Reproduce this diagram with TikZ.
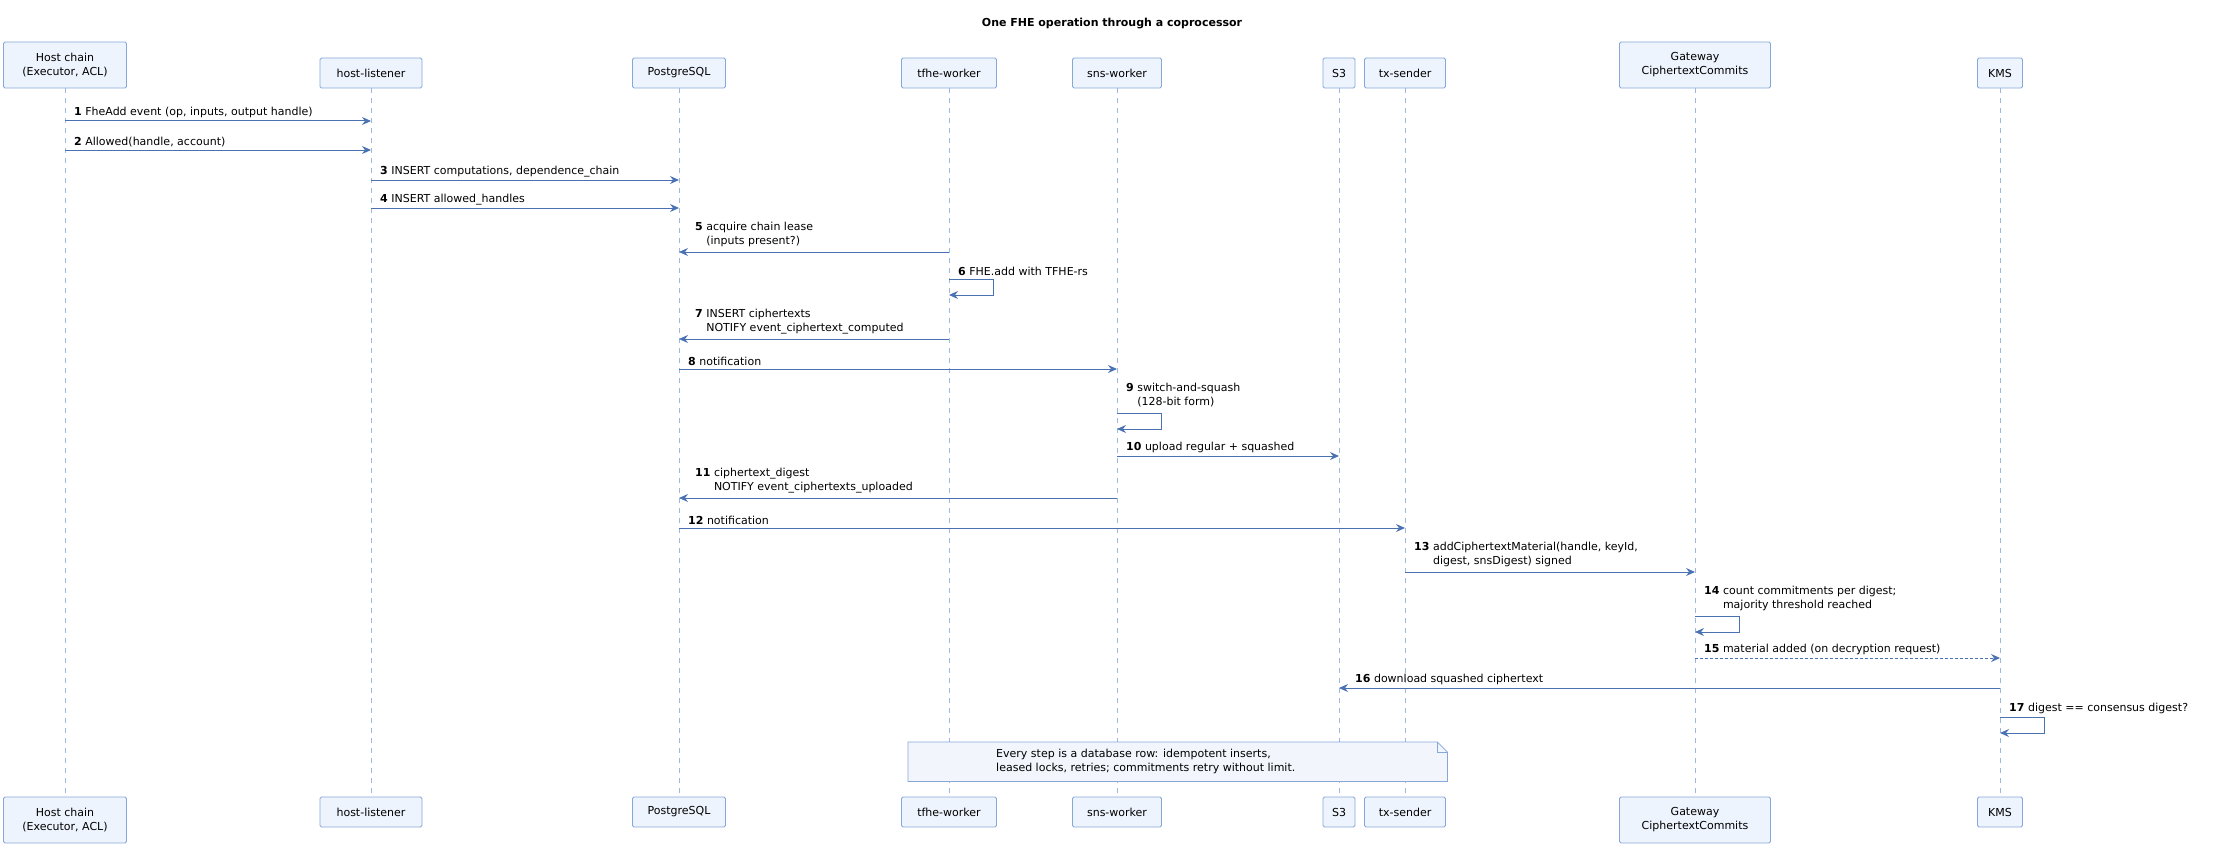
\documentclass[tikz,border=0pt]{standalone}
\usepackage{fontspec}
\setmainfont{DejaVu Sans}
\usetikzlibrary{arrows.meta,calc}
\definecolor{boxfill}{HTML}{EEF4FD}
\definecolor{boxline}{HTML}{86A8D8}
\definecolor{arr}{HTML}{4A72B2}
\definecolor{life}{HTML}{9DB8E0}
\definecolor{notefill}{HTML}{F2F6FC}
\tikzset{x=1pt,y=-1pt,
 part/.style={draw=boxline,fill=boxfill,rounded corners=1.5pt,line width=0.8pt,inner sep=0pt,align=center,font=\fontsize{11}{14}\selectfont},
 msg/.style={draw=arr,line width=1pt,-{Stealth[length=9pt,width=8pt,inset=3pt]}},
 lbl/.style={inner sep=0pt,anchor=south west,align=left,font=\fontsize{11}{14}\selectfont},
 lifeline/.style={draw=life,line width=0.8pt,dash pattern=on 5pt off 5pt}}
\newcommand{\tl}[2]{\begin{tabular}[t]{@{}l@{}}#1\\#2\end{tabular}}
\begin{document}
\begin{tikzpicture}
\useasboundingbox (0,0) rectangle (2223,848);
\node[font=\bfseries\fontsize{11}{14}\selectfont] (title) at (1112,24) {One FHE operation through a coprocessor};
% participants: name, x, left, right
\foreach \n/\x/\w/\t/\two in {A/65/123/{Host chain\\(Executor, ACL)}/1,B/371/102/{host-listener}/0,C/679/93/{PostgreSQL}/0,D/949/95/{tfhe-worker}/0,E/1117/89/{sns-worker}/0,F/1339/32/{S3}/0,G/1405/81/{tx-sender}/0,H/1695/151/{Gateway\\CiphertextCommits}/1,I/2000/45/{KMS}/0}{
 \ifnum\two=1
  \node[part,minimum width=\w pt,minimum height=46pt] (t\n) at (\x,65) {\t};
  \node[part,minimum width=\w pt,minimum height=46pt] (b\n) at (\x,820) {\t};
 \else
  \node[part,minimum width=\w pt,minimum height=30pt] (t\n) at (\x,73) {\t};
  \node[part,minimum width=\w pt,minimum height=30pt] (b\n) at (\x,812) {\t};
 \fi
 \draw[lifeline] (t\n.south) -- (b\n.north);
}
% note
\node[inner sep=0pt,minimum width=539pt,minimum height=39pt,anchor=north west] (note) at (908,742) {};
\draw[draw=boxline,fill=notefill,line width=0.8pt] (note.north west) -- ($(note.north east)+(-10,0)$) -- ($(note.north east)+(0,10)$) -- (note.south east) -- (note.south west) -- cycle;
\draw[draw=boxline,line width=0.8pt] ($(note.north east)+(-10,0)$) |- ($(note.north east)+(0,10)$);
\node[lbl,anchor=west] (notetext) at (996,761) {Every step is a database row: idempotent inserts,\\leased locks, retries; commitments retry without limit.};
% messages right
\draw[msg] (tA |- 0,121) -- (tB |- 0,121);
\node[lbl] (l1) at ($(tA |- 0,118)+(9,0)$) {\textbf{1} FheAdd event (op, inputs, output handle)};
\draw[msg] (tA |- 0,150) -- (tB |- 0,150);
\node[lbl] (l2) at ($(tA |- 0,147)+(9,0)$) {\textbf{2} Allowed(handle, account)};
\draw[msg] (tB |- 0,180) -- (tC |- 0,180);
\node[lbl] (l3) at ($(tB |- 0,177)+(9,0)$) {\textbf{3} INSERT computations, dependence\_chain};
\draw[msg] (tB |- 0,208) -- (tC |- 0,208);
\node[lbl] (l4) at ($(tB |- 0,205)+(9,0)$) {\textbf{4} INSERT allowed\_handles};
\draw[msg] (tD |- 0,252) -- (tC |- 0,252);
\node[lbl] (l5) at ($(tC |- 0,249)+(16,0)$) {\textbf{5} \tl{acquire chain lease}{(inputs present?)}};
\draw[msg] (tD |- 0,279) -- ++(44,0) -- ++(0,16) -- (tD |- 0,295);
\node[lbl] (l6) at ($(tD |- 0,276)+(9,0)$) {\textbf{6} FHE.add with TFHE-rs};
\draw[msg] (tD |- 0,339) -- (tC |- 0,339);
\node[lbl] (l7) at ($(tC |- 0,336)+(16,0)$) {\textbf{7} \tl{INSERT ciphertexts}{NOTIFY event\_ciphertext\_computed}};
\draw[msg] (tC |- 0,369) -- (tE |- 0,369);
\node[lbl] (l8) at ($(tC |- 0,366)+(9,0)$) {\textbf{8} notification};
\draw[msg] (tE |- 0,413) -- ++(44,0) -- ++(0,16) -- (tE |- 0,429);
\node[lbl] (l9) at ($(tE |- 0,410)+(9,0)$) {\textbf{9} \tl{switch-and-squash}{(128-bit form)}};
\draw[msg] (tE |- 0,456) -- (tF |- 0,456);
\node[lbl] (l10) at ($(tE |- 0,453)+(9,0)$) {\textbf{10} upload regular + squashed};
\draw[msg] (tE |- 0,498) -- (tC |- 0,498);
\node[lbl] (l11) at ($(tC |- 0,495)+(16,0)$) {\textbf{11} \tl{ciphertext\_digest}{NOTIFY event\_ciphertexts\_uploaded}};
\draw[msg] (tC |- 0,528) -- (tG |- 0,528);
\node[lbl] (l12) at ($(tC |- 0,525)+(9,0)$) {\textbf{12} notification};
\draw[msg] (tG |- 0,572) -- (tH |- 0,572);
\node[lbl] (l13) at ($(tG |- 0,569)+(9,0)$) {\textbf{13} \tl{addCiphertextMaterial(handle, keyId,}{digest, snsDigest) signed}};
\draw[msg] (tH |- 0,616) -- ++(44,0) -- ++(0,16) -- (tH |- 0,632);
\node[lbl] (l14) at ($(tH |- 0,613)+(9,0)$) {\textbf{14} \tl{count commitments per digest;}{majority threshold reached}};
\draw[msg,dash pattern=on 3pt off 2pt] (tH |- 0,658) -- (tI |- 0,658);
\node[lbl] (l15) at ($(tH |- 0,655)+(9,0)$) {\textbf{15} material added (on decryption request)};
\draw[msg] (tI |- 0,688) -- (tF |- 0,688);
\node[lbl] (l16) at ($(tF |- 0,685)+(16,0)$) {\textbf{16} download squashed ciphertext};
\draw[msg] (tI |- 0,717) -- ++(44,0) -- ++(0,16) -- (tI |- 0,733);
\node[lbl] (l17) at ($(tI |- 0,714)+(9,0)$) {\textbf{17} digest == consensus digest?};
\end{tikzpicture}
\end{document}
